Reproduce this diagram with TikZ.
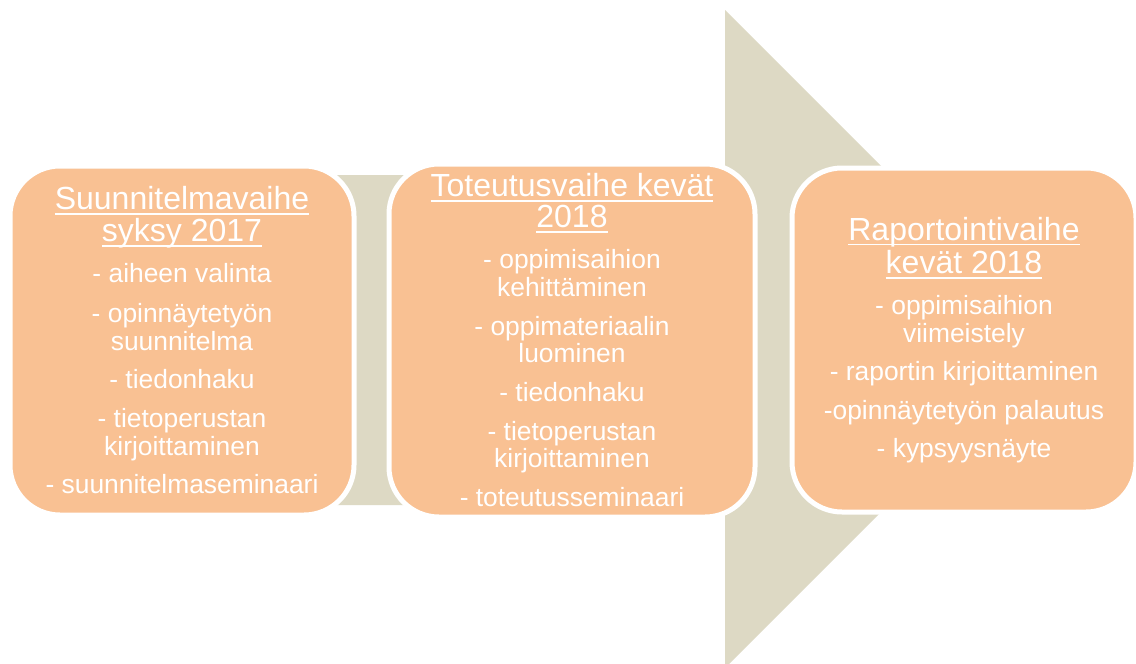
\documentclass[tikz,border=0pt]{standalone}
\usepackage{fontspec}
\setmainfont{Liberation Sans}
\definecolor{boxfill}{HTML}{F9C193}
\definecolor{arrowfill}{HTML}{DDD9C4}
\newcommand\myul[1]{\leavevmode\setbox0=\hbox{#1}\rlap{\vrule height -3.5pt depth 5pt width \wd0}\box0}
\newcommand\ttlf{\fontsize{32}{27.5}\selectfont}
\newcommand\bdyf{\fontsize{26.4}{27.5}\selectfont}
\lineskiplimit=-100pt\relax
\tikzset{
  phasebox/.style={draw=white, line width=5pt, fill=boxfill, rounded corners=50pt,
    inner sep=0pt, text=white, align=center, font=\bdyf},
  bigarrow/.style={fill=arrowfill, draw=none}
}
\begin{document}
\begin{tikzpicture}[x=1pt,y=-1pt]
\useasboundingbox (0,0) rectangle (1136,664);
\fill[white] (0,0) rectangle (1136,664);
\coordinate (s1) at (335,175);
\coordinate (s2) at (725,175);
\coordinate (h1) at (725,10);
\coordinate (tip) at (1054,339);
\coordinate (h2) at (725,668);
\coordinate (s3) at (725,505);
\coordinate (s4) at (335,505);
\path[bigarrow] (s1) -- (s2) -- (h1) -- (tip) -- (h2) -- (s3) -- (s4) -- cycle;

\node[phasebox, minimum width=344pt, minimum height=349pt] (b1) at (182,340.5)
 {\ttlf\myul{Suunnitelmavaihe}\\[4.5pt]
  \ttlf\myul{syksy 2017}\\[13.5pt]
  - aiheen valinta\\[12.5pt]
  - opinnäytetyön\\
  suunnitelma\\[11pt]
  - tiedonhaku\\[11.5pt]
  - tietoperustan\\
  kirjoittaminen\\[11pt]
  - suunnitelmaseminaari};

\node[phasebox, minimum width=366pt, minimum height=353pt] (b2) at (572,340.5)
 {\ttlf\myul{Toteutusvaihe kevät}\\[3.5pt]
  \ttlf\myul{2018}\\[13.5pt]
  - oppimisaihion\\
  kehittäminen\\[11.5pt]
  - oppimateriaalin\\
  luominen\\[11pt]
  - tiedonhaku\\[11.5pt]
  - tietoperustan\\
  kirjoittaminen\\[11.5pt]
  - toteutusseminaari};

\node[phasebox, minimum width=344pt, minimum height=344pt] (b3) at (964,340)
 {\ttlf\myul{Raportointivaihe}\\[6pt]
  \ttlf\myul{kevät 2018}\\[13.5pt]
  - oppimisaihion\\
  viimeistely\\[11pt]
  - raportin kirjoittaminen\\[11pt]
  -opinnäytetyön palautus\\[11pt]
  - kypsyysnäyte};
\end{tikzpicture}
\end{document}
